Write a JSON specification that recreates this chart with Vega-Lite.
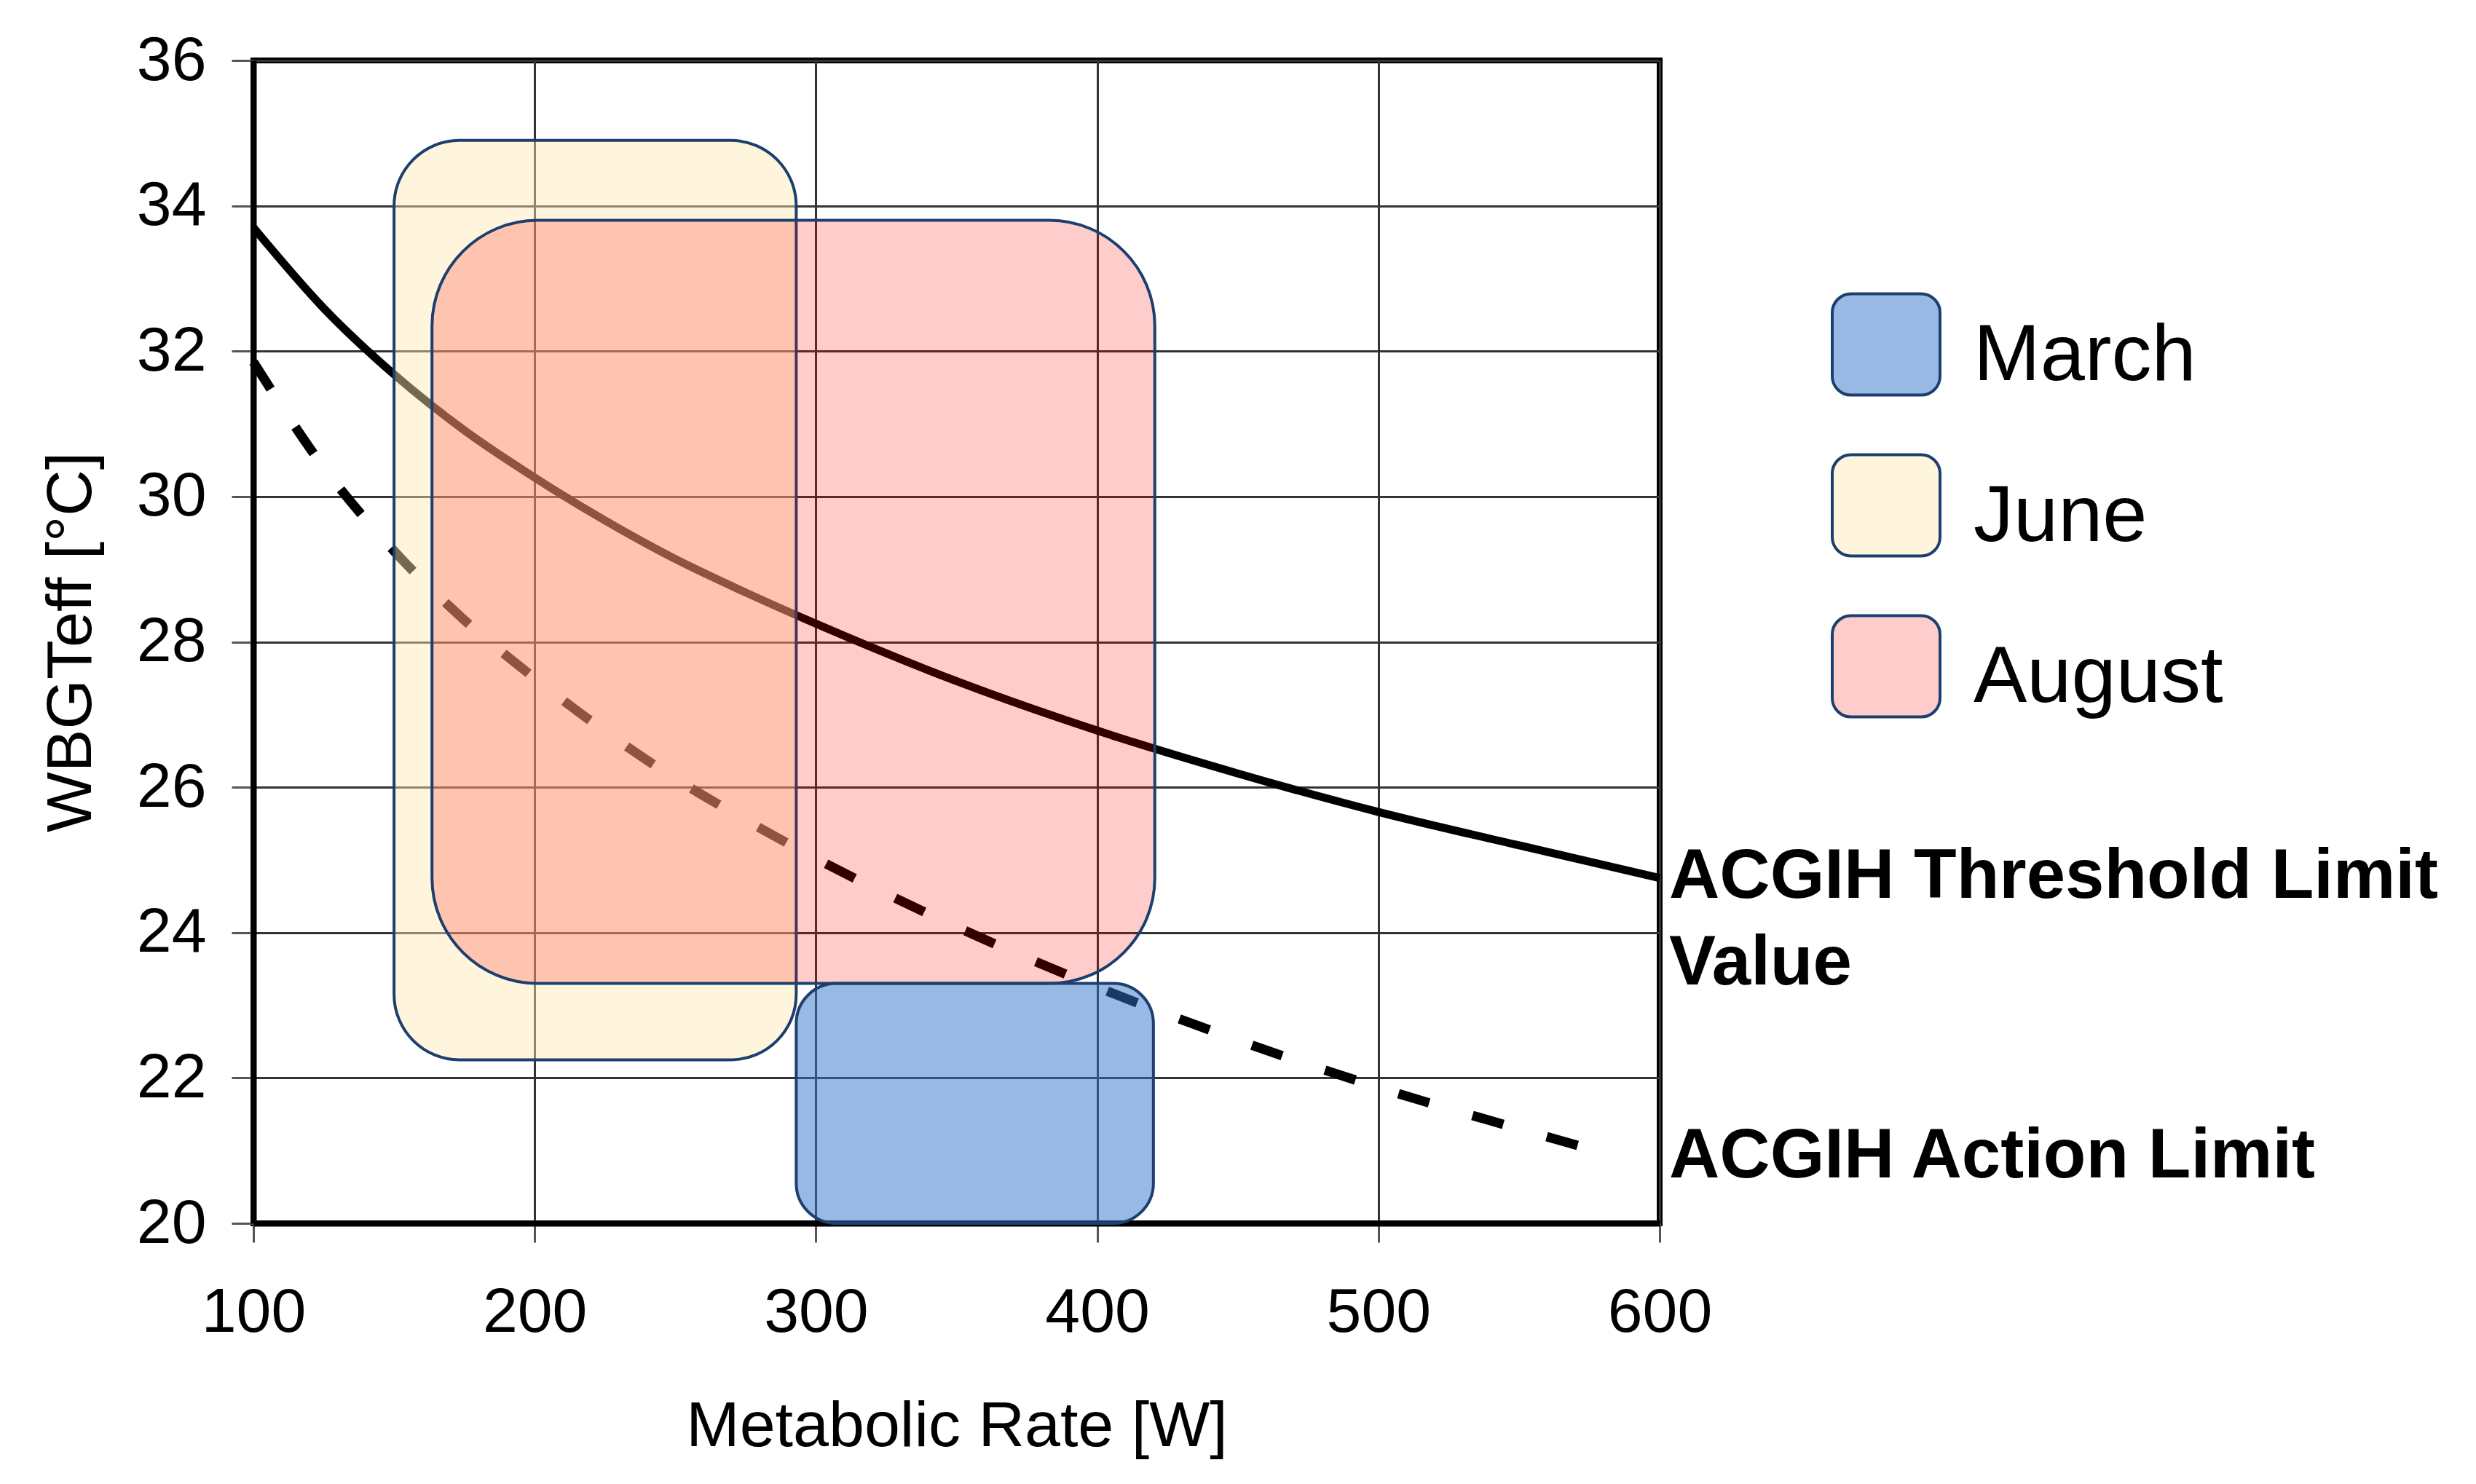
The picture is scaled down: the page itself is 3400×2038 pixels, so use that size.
{
  "$schema": "https://vega.github.io/schema/vega-lite/v6.json",
  "autosize": {"type": "none"},
  "width": 1931,
  "height": 1597,
  "padding": {"left": 348, "top": 83, "right": 1121, "bottom": 358},
  "background": "white",
  "config": {
    "font": "Liberation Sans",
    "view": {"stroke": "black", "strokeWidth": 8},
    "axis": {
      "labelFont": "Liberation Sans",
      "titleFont": "Liberation Sans",
      "labelFontSize": 86,
      "titleFontSize": 88,
      "titleFontWeight": "normal",
      "labelColor": "black",
      "titleColor": "black",
      "domainColor": "black",
      "domainWidth": 8,
      "gridColor": "#333333",
      "gridWidth": 3,
      "gridOpacity": 1,
      "tickColor": "#555555",
      "tickWidth": 3,
      "labelFlush": false
    },
    "legend": {
      "labelFont": "Liberation Sans",
      "labelFontSize": 110,
      "labelColor": "black",
      "labelLimit": 0
    }
  },
  "datasets": {
    "boxes": [
      {"month": "March", "x1": 293, "x2": 420, "y1": 20, "y2": 23.3},
      {"month": "June", "x1": 150, "x2": 293, "y1": 22.25, "y2": 34.9},
      {"month": "August", "x1": 163.5, "x2": 420.5, "y1": 23.3, "y2": 33.8}
    ],
    "tlv": [
      {"m": 100, "w": 33.7},
      {"m": 125, "w": 32.59},
      {"m": 150, "w": 31.68},
      {"m": 175, "w": 30.91},
      {"m": 200, "w": 30.26},
      {"m": 225, "w": 29.67},
      {"m": 250, "w": 29.14},
      {"m": 275, "w": 28.68},
      {"m": 300, "w": 28.25},
      {"m": 350, "w": 27.46},
      {"m": 400, "w": 26.78},
      {"m": 450, "w": 26.19},
      {"m": 500, "w": 25.66},
      {"m": 550, "w": 25.2},
      {"m": 600, "w": 24.75}
    ],
    "action": [
      {"m": 100, "w": 31.85},
      {"m": 125, "w": 30.4},
      {"m": 150, "w": 29.25},
      {"m": 175, "w": 28.3},
      {"m": 200, "w": 27.5},
      {"m": 225, "w": 26.77},
      {"m": 250, "w": 26.12},
      {"m": 275, "w": 25.55},
      {"m": 300, "w": 25.02},
      {"m": 350, "w": 24.08},
      {"m": 400, "w": 23.25},
      {"m": 450, "w": 22.52},
      {"m": 500, "w": 21.87},
      {"m": 550, "w": 21.3},
      {"m": 585, "w": 20.92}
    ],
    "notes": [
      {"label": "ACGIH Threshold Limit", "m": 600, "w": 24.77},
      {"label": "Value", "m": 600, "w": 23.58},
      {"label": "ACGIH Action Limit", "m": 600, "w": 20.92}
    ]
  },
  "encoding": {
    "x": {
      "field": "m",
      "type": "quantitative",
      "title": "Metabolic Rate [W]",
      "scale": {"domain": [100, 600], "nice": false},
      "axis": {"values": [100, 200, 300, 400, 500, 600], "tickSize": 26, "labelPadding": 54, "titlePadding": 70}
    },
    "y": {
      "field": "w",
      "type": "quantitative",
      "title": "WBGTeff [°C]",
      "scale": {"domain": [20, 36], "nice": false, "zero": false},
      "axis": {"values": [20, 22, 24, 26, 28, 30, 32, 34, 36], "tickSize": 30, "labelPadding": 35, "titlePadding": 45}
    }
  },
  "layer": [
    {
      "data": {"name": "tlv"},
      "mark": {"type": "line", "stroke": "black", "strokeWidth": 11, "interpolate": "monotone"}
    },
    {
      "data": {"name": "action"},
      "mark": {"type": "line", "stroke": "black", "strokeWidth": 13, "strokeDash": [44, 62], "strokeCap": "butt", "interpolate": "monotone"}
    },
    {
      "data": {"name": "boxes"},
      "transform": [{"filter": "datum.month == 'June'"}],
      "mark": {"type": "rect", "cornerRadius": 90, "fillOpacity": 0.45, "stroke": "#1c3f6e", "strokeWidth": 4},
      "encoding": {
        "x": {"field": "x1", "type": "quantitative"},
        "x2": {"field": "x2"},
        "y": {"field": "y1", "type": "quantitative"},
        "y2": {"field": "y2"},
        "fill": {
          "field": "month",
          "type": "nominal",
          "scale": {"domain": ["March", "June", "August"], "range": ["#3173C7", "#FFE9B2", "#FF0000"]},
          "legend": {
            "title": null,
            "orient": "none",
            "legendX": 2166,
            "legendY": 314,
            "padding": 0,
            "symbolType": "M-0.65,-0.94H0.65A0.35,0.35 0 0 1 1,-0.59V0.59A0.35,0.35 0 0 1 0.65,0.94H-0.65A0.35,0.35 0 0 1 -1,0.59V-0.59A0.35,0.35 0 0 1 -0.65,-0.94Z",
            "symbolSize": 21904,
            "symbolStrokeColor": "#1c3f6e",
            "symbolStrokeWidth": 4,
            "labelOffset": 44,
            "rowPadding": 65,
            "encode": {
              "symbols": {"update": {"fillOpacity": {"signal": "datum.value == 'August' ? 0.2 : datum.value == 'June' ? 0.45 : 0.5"}, "opacity": {"value": 1}}},
              "labels": {"update": {"dy": {"value": 16}}}
            }
          }
        }
      }
    },
    {
      "data": {"name": "boxes"},
      "transform": [{"filter": "datum.month == 'August'"}],
      "mark": {"type": "rect", "cornerRadius": 145, "fillOpacity": 0.2, "stroke": "#1c3f6e", "strokeWidth": 4},
      "encoding": {
        "x": {"field": "x1", "type": "quantitative"},
        "x2": {"field": "x2"},
        "y": {"field": "y1", "type": "quantitative"},
        "y2": {"field": "y2"},
        "fill": {"field": "month", "type": "nominal"}
      }
    },
    {
      "data": {"name": "boxes"},
      "transform": [{"filter": "datum.month == 'March'"}],
      "mark": {"type": "rect", "cornerRadius": 55, "fillOpacity": 0.5, "stroke": "#1c3f6e", "strokeWidth": 4},
      "encoding": {
        "x": {"field": "x1", "type": "quantitative"},
        "x2": {"field": "x2"},
        "y": {"field": "y1", "type": "quantitative"},
        "y2": {"field": "y2"},
        "fill": {"field": "month", "type": "nominal"}
      }
    },
    {
      "data": {"name": "notes"},
      "mark": {"type": "text", "align": "left", "baseline": "middle", "dx": 13, "fontSize": 96, "fontWeight": "bold", "font": "Liberation Sans", "color": "black"},
      "encoding": {
        "text": {"field": "label", "type": "nominal"}
      }
    }
  ]
}
